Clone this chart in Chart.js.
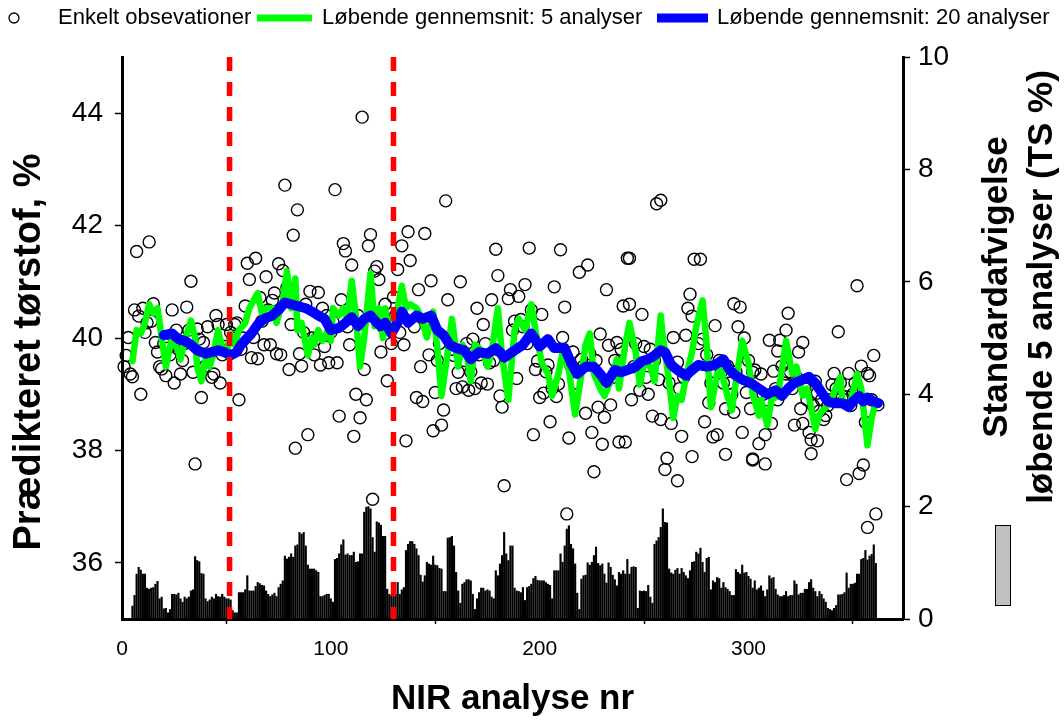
<!DOCTYPE html>
<html><head><meta charset="utf-8">
<script src="https://cdn.jsdelivr.net/npm/chart.js@4.4.1/dist/chart.umd.min.js"></script>
<style>html,body{margin:0;padding:0;background:#fff;}#wrap{width:1064px;height:720px;}</style>
</head><body><div id="wrap"><canvas id="c" width="1064" height="720"></canvas></div>
<script>
// ---- data ----
const xTicks = [0, 100, 200, 300];
const leftTicks = [36, 38, 40, 42, 44];
const rightTicks = [0, 2, 4, 6, 8, 10];
const separatorX = [51.5, 130];

const scatterX = [1,2,3,4,5,6,7,8,9,10,11,12,13,14,15,16,17,18,19,20,21,22,23,24,25,26,27,28,29,30,31,32,33,34,35,36,37,38,39,40,41,42,43,44,45,46,47,48,49,50,51,52,53,54,55,56,57,58,59,60,61,62,
63,64,65,66,67,68,69,70,71,72,73,74,75,76,77,78,79,80,81,82,83,84,85,86,87,88,89,90,91,92,93,94,95,96,97,98,99,100,101,102,103,104,105,106,107,108,109,110,111,112,113,114,115,116,117,118,119,120,121,122,123,
124,125,126,127,128,129,130,131,132,133,134,135,136,137,138,139,140,141,142,143,144,145,146,147,148,149,150,151,152,153,154,155,156,157,158,159,160,161,162,163,164,165,166,167,168,169,170,171,172,173,174,175,176,177,178,179,180,181,182,183,
185,186,187,188,189,190,191,192,193,194,195,196,197,198,199,200,201,202,203,204,205,206,207,208,209,210,211,212,213,214,215,216,217,218,219,220,221,222,223,224,225,226,227,228,229,230,231,232,233,234,235,236,237,238,239,240,241,242,243,244,
256,258,243,274,277,272,293,296,249,271,273,284,295,298,270,264,250,278,266,245,248,252,257,303,299,281,289,293,301,254,258,263,279,285,283,297,268,261,260,273,289,266,302,
246,251,253,255,262,267,269,276,280,282,286,287,288,290,291,292,294,300,
352,319,343,318,310,315,326,314,324,360,354,357,358,302,306,312,318,341,348,332,340,333,314,345,347,362,325,336,337,311,322,326,329,308,330,333,305,302,308,330,355,353,347,361,357,
304,307,309,313,316,317,320,321,323,327,328,331,334,335,338,339,342,344,346,349,350,351,356,359];
const scatterY = [39.49,39.69,40.01,39.36,39.31,40.50,41.54,40.39,39.00,40.53,40.10,40.27,41.71,40.30,40.61,39.92,39.75,39.49,39.45,39.90,39.33,39.82,39.70,40.50,39.20,40.14,39.80,39.36,39.60,39.90,40.55,40.14,41.01,39.39,37.76,40.16,39.98,38.94,39.92,39.50,40.20,39.70,39.30,39.36,40.40,40.24,39.20,39.70,39.85,40.24,39.80,40.10,40.00,40.24,40.27,38.90,39.80,40.00,40.57,41.33,41.04,39.65,
40.01,41.42,39.63,40.72,40.30,39.88,41.09,40.50,39.88,40.67,40.80,39.72,41.32,39.70,41.20,42.72,40.90,39.44,40.24,41.83,38.04,42.28,39.72,39.50,40.10,40.60,38.28,40.83,40.00,39.70,39.98,40.81,39.52,40.53,39.85,40.40,39.56,40.10,40.29,42.64,39.56,38.61,40.68,41.68,41.55,40.20,39.88,41.30,38.25,39.00,40.40,38.58,43.93,39.44,38.90,41.64,41.84,37.13,41.19,41.27,41.04,
39.75,40.20,40.60,39.24,40.30,39.90,40.73,40.40,41.22,40.10,41.64,39.88,38.17,41.89,41.38,40.50,40.20,38.94,40.86,39.49,38.87,41.86,40.30,39.70,41.02,38.35,39.03,39.60,39.90,38.45,38.72,42.44,40.68,40.00,39.80,39.69,39.10,39.39,41.00,39.13,39.60,39.90,39.07,39.40,39.98,39.10,40.53,39.70,39.20,40.24,39.90,39.18,39.56,40.68,39.60,41.58,41.11,38.97,38.77,37.37,
40.70,40.86,40.14,40.30,39.28,40.74,40.33,40.20,40.95,39.90,41.60,40.50,38.28,39.44,39.59,38.94,40.42,39.02,39.40,39.52,38.51,39.10,40.91,38.96,39.18,41.57,40.01,40.55,36.87,38.22,39.50,39.75,39.20,39.40,41.17,39.62,39.50,38.66,41.30,39.72,38.32,37.62,39.60,38.77,40.07,38.11,38.59,40.86,39.87,38.81,39.30,39.60,39.92,38.15,39.80,40.57,38.15,41.42,40.60,38.90,
42.39,42.45,41.42,41.40,41.40,40.78,40.61,40.55,40.42,40.53,40.39,40.22,40.20,40.00,40.05,40.01,39.85,39.98,39.57,39.49,39.07,39.00,39.26,39.43,39.03,38.85,38.74,38.68,38.74,38.61,38.55,38.48,38.51,38.28,38.24,38.32,38.25,37.86,37.66,37.89,37.93,37.46,37.83,
39.90,39.30,39.80,39.60,39.20,39.10,39.30,39.90,39.70,39.20,39.60,39.40,39.20,39.50,39.20,39.00,39.40,39.60,
40.93,40.44,40.11,40.14,39.96,39.96,39.92,39.77,39.75,39.69,39.50,39.37,39.33,39.39,39.36,39.41,39.36,39.37,39.37,39.23,39.17,39.02,38.90,38.97,38.95,38.81,38.74,38.55,38.62,38.48,38.45,38.48,38.32,38.28,38.19,38.17,38.12,37.85,37.76,37.94,37.74,37.59,37.48,36.87,36.63,
39.00,39.00,38.90,39.10,39.50,39.20,39.40,39.10,39.30,39.10,38.90,38.80,38.70,38.90,38.80,38.90,39.10,39.20,38.90,38.80,39.00,39.20,38.50,38.90];

const green5X = [5,7,9,11,13,15,17,19,21,24,27,28,30,33,35,36,38,40,42,44,46,48,50,52,54,56,59,61,65,67,69,72,74,77,79,81,83,84,86,89,91,92,94,96,98,100,101,104,106,108,110,112,114,116,119,121,123,125,126,128,130,132,134,136,138,141,143,146,149,151,153,156,158,161,163,165,167,169,173,175,177,180,182,185,188,190,193,196,198,201,204,206,209,211,214,217,220,222,224,226,229,231,234,237,238,241,243,246,248,250,253,255,258,259,262,264,266,268,270,273,275,278,280,282,285,287,289,292,294,297,300,302,305,306,309,311,314,316,318,321,323,326,328,330,332,334,337,339,341,344,345,348,350,352,354,357,359,361];
const green5Y = [39.59,40.14,40.08,40.27,40.60,40.44,40.53,40.01,39.49,40.01,39.75,39.62,39.95,40.31,40.00,39.49,39.23,39.62,39.49,39.75,40.14,39.82,39.69,40.08,39.88,40.14,40.27,40.53,40.80,40.44,40.53,40.53,40.27,40.67,41.19,40.53,41.06,40.14,40.27,39.69,40.01,39.88,40.14,39.95,40.08,39.95,40.53,40.40,40.53,40.34,41.02,40.40,39.49,40.01,41.15,40.21,40.53,40.00,40.53,40.08,40.40,40.53,40.93,40.53,40.60,40.53,40.40,40.01,40.47,39.82,38.97,39.75,40.34,39.49,39.88,39.75,39.23,39.88,39.75,39.49,39.75,40.53,39.69,38.90,40.14,40.34,40.14,40.60,40.14,39.56,39.36,38.97,39.36,39.75,39.43,38.64,39.36,39.88,40.08,39.36,39.10,38.97,39.23,39.62,39.10,39.88,40.27,39.75,39.17,39.56,39.49,39.23,40.40,40.01,39.23,38.58,38.97,38.90,39.30,39.75,40.21,40.67,39.88,38.77,39.36,39.43,39.10,38.71,39.23,39.95,39.56,39.00,38.62,38.90,38.45,38.90,38.97,39.43,39.95,39.36,39.49,38.97,39.10,38.77,38.38,38.64,38.77,38.84,39.03,39.30,38.90,38.74,39.03,39.36,39.10,38.09,38.58,38.87];

const blue20X = [20,24,27,30,33,36,40,43,46,49,52,55,57,60,62,65,68,72,75,78,81,84,88,91,94,97,100,104,107,110,113,116,119,122,124,126,129,132,134,137,141,144,148,151,154,157,160,164,167,171,175,179,181,183,188,192,196,200,204,207,212,215,218,222,226,229,232,236,239,242,246,249,252,255,258,260,263,266,270,273,276,280,284,288,291,294,297,301,305,309,313,316,319,322,326,329,332,335,338,341,345,348,350,353,355,357,360,362];
const blue20Y = [40.05,40.08,39.98,39.95,39.88,39.78,39.72,39.75,39.78,39.75,39.69,39.75,39.88,40.00,40.08,40.24,40.34,40.40,40.50,40.63,40.60,40.57,40.53,40.47,40.40,40.34,40.14,40.18,40.27,40.37,40.21,40.34,40.40,40.27,40.21,40.27,40.08,40.27,40.47,40.27,40.40,40.34,40.40,40.14,40.05,39.88,39.82,39.78,39.62,39.75,39.72,39.82,39.75,39.65,39.78,39.88,40.08,39.85,39.98,39.82,39.82,39.56,39.36,39.49,39.49,39.36,39.20,39.43,39.39,39.43,39.49,39.59,39.62,39.69,39.78,39.75,39.52,39.43,39.33,39.43,39.52,39.49,39.52,39.62,39.43,39.33,39.26,39.20,39.10,39.00,39.07,38.97,39.10,39.20,39.26,39.31,39.20,39.03,38.87,38.84,38.84,38.77,38.87,38.97,38.87,38.94,38.87,38.84];

const sdFirstNr = 5;
const sd5 = [0.23,0.42,0.80,0.92,0.87,0.80,0.80,0.55,0.53,0.55,
0.56,0.62,0.67,0.36,0.39,0.18,0.19,0.11,0.17,0.44,
0.44,0.43,0.46,0.36,0.30,0.39,0.36,0.39,0.50,0.52,
1.11,1.04,1.02,0.81,0.80,0.36,0.31,0.34,0.39,0.36,
0.44,0.40,0.39,0.44,0.39,0.36,0.36,0.34,0.15,0.11,
0.11,0.47,0.47,0.47,0.52,0.77,0.50,0.50,0.50,0.58,
0.65,0.63,0.60,0.59,0.50,0.44,0.40,0.43,0.46,0.40,
0.56,0.62,0.68,1.12,1.07,1.10,1.16,1.10,1.30,1.32,
1.54,1.51,1.54,1.30,0.96,0.89,0.89,0.89,0.86,0.83,
0.40,0.40,0.42,0.44,0.44,0.36,0.30,1.06,1.08,1.16,
1.32,1.41,1.14,1.16,1.13,1.13,1.19,1.01,1.02,1.16,
1.16,1.90,1.99,2.00,1.96,1.45,1.19,1.73,1.71,1.67,
1.47,1.47,0.53,0.44,0.42,0.40,0.44,0.65,0.44,0.52,
0.56,1.22,1.33,1.38,1.38,1.33,1.25,1.13,0.78,0.66,
0.77,1.01,0.98,0.96,1.12,0.96,0.95,0.90,0.89,0.49,
0.49,1.44,1.45,1.47,1.30,0.83,0.50,0.28,0.62,0.65,
0.70,0.70,0.68,0.44,0.17,0.36,0.47,0.55,0.55,0.50,
0.52,0.50,0.39,0.36,0.86,0.77,0.98,1.13,1.54,1.16,
1.04,1.30,1.30,0.55,0.50,0.49,0.47,0.56,0.33,0.56,
0.58,0.62,0.72,0.76,0.69,0.68,0.68,0.68,0.65,0.62,
0.60,0.36,0.86,0.86,0.86,1.16,1.01,1.30,1.60,1.66,
1.33,1.25,0.98,0.46,0.17,0.71,0.77,0.78,1.00,0.96,
1.01,1.13,1.28,0.99,0.95,0.98,0.80,0.64,1.00,0.92,
0.78,0.70,0.59,0.83,0.80,0.86,0.80,1.06,0.80,0.92,
0.93,0.92,0.19,0.50,0.49,0.50,0.49,0.60,0.39,0.28,
1.33,1.39,1.45,1.63,1.96,1.72,1.71,0.89,0.82,0.80,
0.87,0.90,0.80,0.90,0.83,0.77,0.72,0.86,1.01,1.02,
1.19,1.16,1.26,1.01,0.83,1.08,1.10,0.52,0.68,0.65,
0.74,0.72,0.55,0.65,0.56,0.53,0.49,0.42,0.42,0.88,
0.83,0.80,0.96,0.82,0.83,0.76,0.71,0.55,0.68,0.52,
0.55,0.59,0.50,0.40,0.52,0.77,0.72,0.74,0.53,0.43,
0.40,0.40,0.42,0.49,0.40,0.42,0.42,0.68,0.62,0.43,
0.46,0.46,0.53,0.53,0.65,0.70,0.55,0.49,0.40,0.49,
0.44,0.36,0.30,0.19,0.17,0.15,0.19,0.24,0.43,0.43,
0.44,0.47,0.82,0.55,0.62,0.62,0.64,0.80,0.80,1.06,
1.08,1.22,1.05,1.12,1.15,1.32,0.99];

const legendLabels = ['Enkelt obsevationer', 'Løbende gennemsnit: 5 analyser', 'Løbende gennemsnit: 20 analyser'];
const leftTitle = 'Prædikteret tørstof, %';
const rightTitle = ['Standardafvigelse', 'løbende 5 analyser (TS %)'];
const xTitle = 'NIR analyse nr';

// ---- build ----
const FONT = '"Liberation Sans", Arial, Helvetica, sans-serif';
const pts = (xs, ys) => xs.map((x, i) => ({ x: x, y: ys[i] }));
const sdPts = sd5.map((v, i) => ({ x: sdFirstNr + i, y: v }));

const overlay = {
  id: 'overlay',
  afterDraw(chart) {
    const c = chart.ctx;
    c.save();
    // legend
    c.font = '22px ' + FONT;
    c.textBaseline = 'middle';
    c.textAlign = 'left';
    c.fillStyle = '#000';
    const ly = 18;
    c.beginPath(); c.arc(14, ly, 5, 0, Math.PI * 2);
    c.lineWidth = 1.3; c.strokeStyle = '#000'; c.stroke();
    c.fillText(legendLabels[0], 58, ly);
    c.fillStyle = '#00ff00'; c.fillRect(257, ly - 3.5, 55, 7);
    c.fillStyle = '#000'; c.fillText(legendLabels[1], 322, ly);
    c.fillStyle = '#0000ff'; c.fillRect(657, ly - 4.5, 51, 9);
    c.fillStyle = '#000'; c.fillText(legendLabels[2], 717, ly);
    // left axis title
    c.textAlign = 'center';
    c.textBaseline = 'alphabetic';
    c.font = 'bold 38px ' + FONT;
    c.save(); c.translate(40, 352); c.rotate(-Math.PI / 2); c.fillText(leftTitle, 0, 0); c.restore();
    // right axis title
    c.textBaseline = 'middle';
    c.font = 'bold 35px ' + FONT;
    c.save(); c.translate(997, 287); c.rotate(-Math.PI / 2); c.fillText(rightTitle[0], 0, 0); c.restore();
    c.save(); c.translate(1042, 287); c.rotate(-Math.PI / 2); c.fillText(rightTitle[1], 0, 0); c.restore();
    // bar legend key
    c.fillStyle = '#c0c0c0'; c.fillRect(995, 525, 15, 80);
    c.lineWidth = 1; c.strokeStyle = '#000'; c.strokeRect(995.5, 525.5, 15, 80);
    c.restore();
  }
};

new Chart(document.getElementById('c'), {
  type: 'line',
  data: {
    datasets: [
      { label: 'sep1', data: [{ x: separatorX[0], y: 45 }, { x: separatorX[0], y: 35 }], borderColor: '#ff0000', borderWidth: 5.5, borderDash: [14, 11], pointRadius: 0, order: 0, yAxisID: 'y' },
      { label: 'sep2', data: [{ x: separatorX[1], y: 45 }, { x: separatorX[1], y: 35 }], borderColor: '#ff0000', borderWidth: 5.5, borderDash: [14, 11], pointRadius: 0, order: 0, yAxisID: 'y' },
      { label: legendLabels[2], data: pts(blue20X, blue20Y), borderColor: '#0000ff', borderWidth: 10, pointRadius: 0, borderJoinStyle: 'round', borderCapStyle: 'round', order: 1, yAxisID: 'y' },
      { label: legendLabels[1], data: pts(green5X, green5Y), borderColor: '#00ff00', borderWidth: 6.5, pointRadius: 0, borderJoinStyle: 'round', borderCapStyle: 'round', order: 2, yAxisID: 'y' },
      { type: 'scatter', label: legendLabels[0], data: pts(scatterX, scatterY), showLine: false, pointRadius: 6, borderWidth: 1.4, borderColor: '#000', backgroundColor: 'rgba(0,0,0,0)', order: 3, clip: false, yAxisID: 'y' },
      { type: 'bar', label: 'Standardafvigelse', data: sdPts, backgroundColor: '#000', borderWidth: 0, barThickness: 1.5, order: 4, yAxisID: 'y2' }
    ]
  },
  options: {
    responsive: false, animation: false, devicePixelRatio: 1,
    layout: { padding: { top: 57, left: 0, right: 0, bottom: 0 } },
    plugins: { legend: { display: false }, tooltip: { enabled: false } },
    scales: {
      x: {
        type: 'linear', min: 0, max: 374, offset: false,
        afterFit: s => { s.height = 101; },
        afterBuildTicks: s => { s.ticks = xTicks.map(v => ({ value: v })); },
        grid: { drawOnChartArea: false, drawTicks: true, tickLength: 5, tickWidth: 1.5, tickColor: '#000' },
        border: { display: true, color: '#000', width: 3 },
        ticks: { color: '#000', font: { family: FONT, size: 21 }, padding: 13, maxRotation: 0 },
        title: { display: true, text: xTitle, color: '#000', font: { family: FONT, size: 35, weight: 'bold' }, padding: { top: 0, bottom: 0 } }
      },
      y: {
        type: 'linear', position: 'left', min: 35, max: 45,
        afterFit: s => { s.width = 122; },
        afterBuildTicks: s => { s.ticks = leftTicks.map(v => ({ value: v })); },
        grid: { drawOnChartArea: false, drawTicks: true, tickLength: 7, tickWidth: 1.5, tickColor: '#000' },
        border: { display: true, color: '#000', width: 3 },
        ticks: { color: '#000', font: { family: FONT, size: 28 }, padding: 12 }
      },
      y2: {
        type: 'linear', position: 'right', min: 0, max: 10,
        afterFit: s => { s.width = 161; },
        afterBuildTicks: s => { s.ticks = rightTicks.map(v => ({ value: v })); },
        grid: { drawOnChartArea: false, drawTicks: true, tickLength: 7, tickWidth: 1.5, tickColor: '#000' },
        border: { display: true, color: '#000', width: 3 },
        ticks: { color: '#000', font: { family: FONT, size: 28 }, padding: 8 }
      }
    }
  },
  plugins: [overlay]
});
</script>
</body></html>
